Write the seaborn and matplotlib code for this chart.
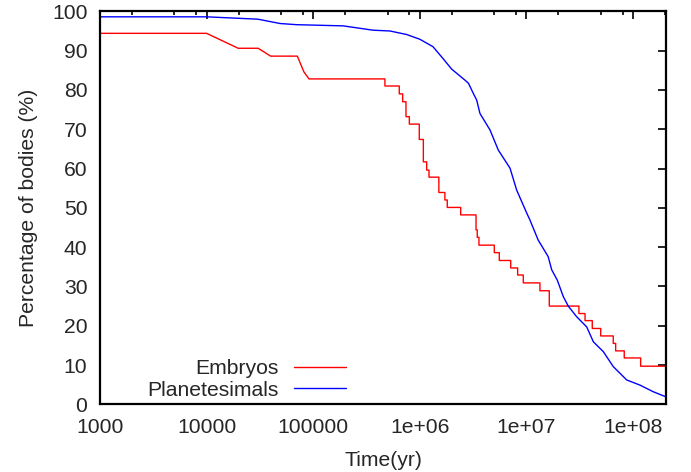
import numpy as np
import pandas as pd
import matplotlib
matplotlib.use("Agg")
import matplotlib.pyplot as plt
from matplotlib.ticker import LogLocator, FixedLocator, FuncFormatter, NullFormatter
import seaborn as sns

# Embryos: polyline vertices (early sloped part)
emb_t_head = [1e3, 1e4, 1.98e4, 3.05e4, 3.99e4, 7.1e4, 8.18e4, 9.13e4]
emb_p_head = [94.4, 94.4, 90.6, 90.6, 88.6, 88.6, 84.6, 82.8]
# Embryos: later staircase -> time of each drop and level after it
emb_drop_t = [4.71e5, 6.42e5, 6.91e5, 7.42e5, 7.98e5, 9.89e5, 1.08e6, 1.16e6,
              1.22e6, 1.51e6, 1.72e6, 1.81e6, 2.42e6, 3.37e6, 3.46e6, 3.59e6,
              5.0e6, 5.57e6, 7.13e6, 8.28e6, 9.35e6, 1.34e7, 1.64e7, 3.11e7,
              3.55e7, 4.15e7, 4.98e7, 6.53e7, 6.88e7, 8.28e7, 1.18e8]
emb_drop_p = [81.0, 79.0, 77.0, 73.2, 71.3, 67.4, 61.7, 59.6,
              57.8, 53.9, 52.0, 50.1, 48.2, 44.4, 42.5, 40.5,
              38.6, 36.6, 34.7, 32.9, 30.9, 28.9, 25.0, 23.1,
              21.3, 19.3, 17.4, 15.5, 13.6, 11.8, 9.7]
emb_t_end = 2.04e8

# Planetesimals
pla_t = [1e3, 1e4, 3.03e4, 4.89e4, 7.0e4, 1.91e5, 3.64e5, 5.25e5, 7.53e5,
         1.0e6, 1.33e6, 1.65e6, 1.99e6, 2.65e6, 2.86e6, 3.18e6, 3.42e6,
         3.67e6, 4.56e6, 5.45e6, 7.02e6, 8.11e6, 1.01e7, 1.08e7, 1.29e7,
         1.60e7, 1.73e7, 1.95e7, 2.22e7, 2.47e7, 2.96e7, 3.68e7, 4.25e7,
         5.27e7, 6.53e7, 8.73e7, 1.16e8, 1.55e8, 2.04e8]
pla_p = [98.6, 98.6, 98.0, 96.9, 96.6, 96.3, 95.2, 95.0, 94.1,
         92.9, 91.0, 88.0, 85.3, 82.5, 81.7, 79.1, 77.4,
         74.0, 69.8, 64.7, 60.1, 54.5, 48.6, 46.9, 41.8,
         37.6, 34.2, 31.6, 27.4, 25.0, 22.3, 19.7, 15.9,
         13.4, 9.6, 6.2, 4.9, 3.2, 1.9]

# build the embryo staircase
et, ep = list(emb_t_head), list(emb_p_head)
for t, p in zip(emb_drop_t, emb_drop_p):
    et += [t, t]
    ep += [ep[-1], p]
et.append(emb_t_end)
ep.append(ep[-1])

df = pd.concat([
    pd.DataFrame({"Time": et, "Pct": ep, "Body": "Embryos"}),
    pd.DataFrame({"Time": pla_t, "Pct": pla_p, "Body": "Planetesimals"}),
], ignore_index=True)

sns.set_style("white")
plt.rcParams["font.family"] = ["Liberation Sans", "DejaVu Sans"]
fs = 15.2

fig = plt.figure(figsize=(6.91, 4.72), dpi=100)
ax = fig.add_axes([0.1447, 0.1434, 0.8191, 0.8326])
sns.lineplot(data=df, x="Time", y="Pct", hue="Body",
             palette={"Embryos": "#ff0000", "Planetesimals": "#0000ff"},
             estimator=None, sort=False, lw=1.0, ax=ax)

ax.set_xscale("log")
ax.set_xlim(1e3, 2.04e8)
ax.set_ylim(0, 100)
ax.xaxis.set_major_locator(FixedLocator([1e3, 1e4, 1e5, 1e6, 1e7, 1e8]))
ax.xaxis.set_major_formatter(FuncFormatter(
    lambda v, _: {1e3: "1000", 1e4: "10000", 1e5: "100000",
                  1e6: "1e+06", 1e7: "1e+07", 1e8: "1e+08"}.get(v, "")))
ax.xaxis.set_minor_locator(LogLocator(base=10, subs=(2, 5, 8)))
ax.xaxis.set_minor_formatter(NullFormatter())
ax.set_yticks(np.arange(0, 101, 10))

for s in ax.spines.values():
    s.set_linewidth(1.6)
    s.set_color("black")
ax.tick_params(which="both", direction="in", top=True, right=True,
               labelsize=fs, color="black", width=1.2)
ax.tick_params(axis="x", pad=10)
ax.tick_params(axis="y", pad=9)
ax.tick_params(which="major", length=6)
ax.tick_params(which="minor", length=3)

ax.set_xlabel("Time(yr)", fontsize=fs, labelpad=10)
ax.set_ylabel("Percentage of bodies (%)", fontsize=fs, labelpad=10)

h, l = ax.get_legend_handles_labels()
ax.legend(h, l, markerfirst=False, frameon=False, loc="lower left",
          bbox_to_anchor=(0.083, 0.012), borderaxespad=0, borderpad=0,
          fontsize=fs, handlelength=2.45, handletextpad=0.75, labelspacing=0.1)

fig.savefig("out.png", dpi=100)
